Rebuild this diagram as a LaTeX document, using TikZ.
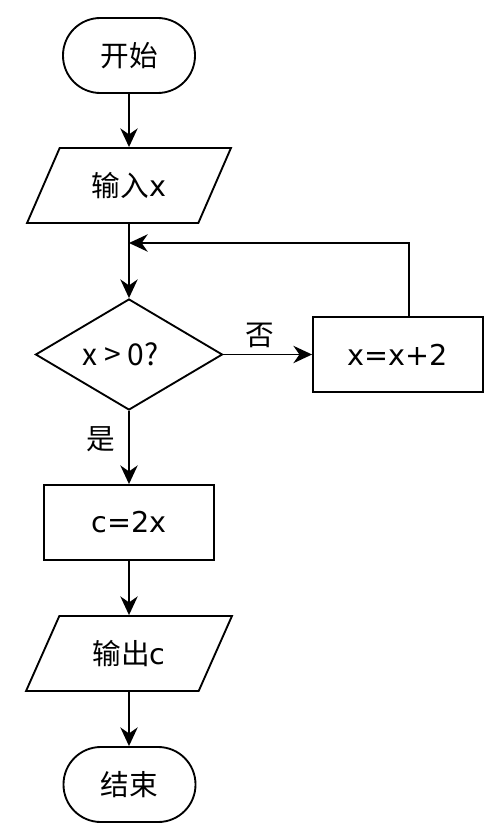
\documentclass[tikz,border=0pt]{standalone}
\usepackage{fontspec}
\setmainfont{DejaVu Sans}
\newfontfamily\cjk{Noto Sans CJK SC}
\usetikzlibrary{shapes.geometric, arrows.meta}

\begin{document}
\begin{tikzpicture}[x=0.75pt, y=-0.75pt, line width=1.4pt,
    >={Stealth[length=14pt, width=13pt, inset=4.5pt]},
    every node/.style={font=\fontsize{21.5}{25}\selectfont},
    terminal/.style={draw, rectangle, rounded corners=28pt, minimum height=56.25pt, minimum width=99pt},
    iobox/.style={draw, trapezium, trapezium left angle=61, trapezium right angle=119,
                  trapezium stretches=true, minimum height=56.25pt, minimum width=154.5pt},
    procbox/.style={draw, rectangle, minimum height=56.25pt, minimum width=127.5pt},
    decision/.style={draw, diamond, inner sep=0pt, minimum width=140.25pt, minimum height=83.25pt}]
  \useasboundingbox (0,0) rectangle (494,831);
  % Start and input
  \node[terminal] (start) at (129,55.5) {\cjk 开始};
  \node[iobox] (input) at (129,185.5) {{\cjk 输入}x};
  % Test and loop body
  \node[decision] (test) at (129,354.5) {\makebox[0pt]{\hspace*{-13pt}\cjk\fontsize{22.5}{25}\selectfont x > 0?}};
  \node[procbox] (incr) at (398,354.5) {x=x+2};
  % Result
  \node[procbox] (calc) at (129,522.5) {c=2x};
  \node[iobox] (output) at (129,653.5) {{\cjk 输出}c};
  \node[terminal] (stop) at (129.5,784.5) {\cjk 结束};
  % Loop back
  \coordinate (turn) at (409,243);
  \coordinate (join) at (129,243);
  % Arrows
  \draw[->] (start) -- (input);
  \draw[->] (input) -- (test);
  \draw[->] (test) -- node[above, pos=0.41, yshift=1pt] {\cjk 否} (incr);
  \draw[->] (incr.north -| turn) -- (turn) -- (join);
  \draw[->] (test) -- node[left, pos=0.39, xshift=-6pt] {\cjk 是} (calc);
  \draw[->] (calc) -- (output);
  \draw[->] (output) -- (output |- stop.north);
\end{tikzpicture}
\end{document}
